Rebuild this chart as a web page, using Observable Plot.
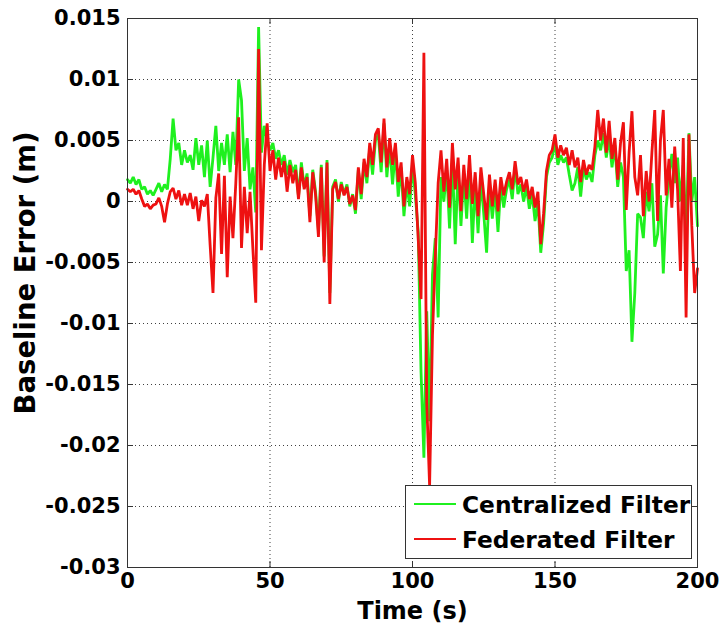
<!DOCTYPE html>
<html><head><meta charset="utf-8">
<script src="https://cdn.jsdelivr.net/npm/d3@7"></script>
<script src="https://cdn.jsdelivr.net/npm/@observablehq/plot@0.6"></script>
<style>
body{margin:0;background:#fff;}
#wrap{position:relative;width:725px;height:634px;font-family:"DejaVu Sans",sans-serif;background:#fff;}
#legend{position:absolute;left:405px;top:485px;width:285px;height:72px;border:1px solid #333;background:#fff;}
.row{position:absolute;left:0;height:30px;display:flex;align-items:center;font-weight:bold;font-size:23.3px;color:#000;white-space:nowrap;}
.sw{width:42px;height:0;border-top:2px solid;margin-left:8px;margin-right:6px;}
</style></head>
<body><div id="wrap"><div id="chart"></div><div id="legend"></div></div>
<script>
// time in seconds (1 s sampling)
const time = d3.range(0, 201);
// baseline errors in millimetres
const centralizedMm = [
 1.8, 1.5, 2.0, 1.4, 1.8, 1.0, 1.2, 0.6, 0.9, 0.5,
 1.0, 1.5, 0.8, 1.4, 1.0, 3.5, 6.8, 4.2, 4.8, 3.0,
 4.2, 3.2, 3.8, 2.6, 5.2, 3.0, 4.6, 2.0, 5.0, 1.2,
 3.6, 6.2, 2.5, 4.8, 3.0, 5.5, 2.4, 5.7, 3.0, 10.0,
 8.3, 2.5, 5.2, 1.0, 2.8, -0.9, 14.3, 4.0, 6.2, 5.0,
 4.2, 4.8, 3.5, 4.2, 3.0, 3.8, 2.2, 3.4, 2.4, 3.0,
 0.4, 3.2, 1.2, 2.3, -1.2, 2.6, 0.8, -2.4, 3.0, -4.5,
 3.4, -7.5, 1.2, 1.8, 0.0, 1.6, 0.6, 1.4, -0.4, 0.6,
 -1.0, 2.6, 0.2, 3.2, 1.5, 4.4, 2.2, 5.0, 5.5, 2.4,
 6.4, 2.0, 4.6, 1.4, 4.2, 0.4, 2.8, -1.2, 1.5, -0.4,
 3.0, 0.5, -2.5, -14.0, -21.0, -9.0, -18.0, -6.0, -3.0, -9.5,
 2.0, 0.0, 2.6, -2.2, 3.6, -3.5, 2.8, -2.0, 2.2, -1.4,
 3.0, -3.4, 1.6, -2.6, 1.8, -1.0, -4.2, 1.4, -1.4, 1.0,
 -2.5, 1.4, -0.5, 1.0, 1.8, 0.2, 2.8, 0.6, 1.4, 0.0,
 1.2, -0.6, 0.6, -1.6, 0.0, -4.2, -1.8, 2.0, 3.2, 3.6,
 4.8, 3.0, 3.8, 3.2, 3.6, 2.2, 0.9, 1.5, 2.8, 0.4,
 2.8, 1.8, 2.4, 1.6, 3.8, 5.0, 4.2, 5.6, 3.6, 5.2,
 2.8, 4.6, 1.2, 3.2, 2.0, -5.7, -4.0, -11.5, -7.5, -1.0,
 -1.3, -3.0, 0.8, -0.8, 1.5, -3.7, -2.7, 0.5, -5.9, -0.5,
 2.0, 3.9, 1.5, 3.6, 0.0, 3.0, -3.0, 5.6, 0.0, 2.0,
 -2.0
];
const federatedMm = [
 1.0, 0.8, 1.0, 0.6, 0.9, 0.2, -0.4, -0.2, -0.6, -0.3,
 -0.2, 0.3, -0.4, -1.7, -0.2, 0.8, 1.1, 0.2, 0.9, -0.3,
 0.6, -0.3, 0.7, -0.6, 0.4, -1.6, 0.1, -0.4, 0.6, -3.6,
 -7.5, 0.3, 2.3, -4.3, 2.1, -6.2, 0.4, -3.0, 1.5, 6.9,
 -3.8, 1.2, -2.6, 0.8, -3.9, -8.3, 12.5, -4.0, 3.0, 6.4,
 2.5, 4.2, 1.8, 3.6, 2.0, 3.3, 0.8, 3.0, 1.5, 2.6,
 0.2, 2.8, 1.0, 2.0, -1.7, 2.4, 0.5, -2.9, 2.8, -5.0,
 3.2, -8.4, 1.0, 1.6, 0.2, 1.4, 0.5, 1.2, -0.2, 0.5,
 -0.7, 2.8, 0.6, 3.5, 2.0, 4.8, 3.0, 5.5, 6.0, 3.2,
 6.8, 2.8, 5.2, 3.0, 4.8, 1.6, 3.2, -0.4, 2.0, 0.6,
 3.8, 1.5, -3.0, -8.0, 12.2, -16.5, -23.3, -11.0, -4.5, 1.5,
 4.2, 0.8, 3.5, -0.5, 4.8, 1.0, 3.6, -0.8, 3.0, 0.2,
 3.8, -0.2, 2.4, -1.2, 2.8, 0.6, -1.5, 2.2, -0.4, 1.8,
 -0.8, 2.0, 0.5, 1.6, 2.4, 1.0, 3.3, 1.4, 2.0, 0.8,
 1.8, 0.2, 1.2, -0.5, 0.8, -3.5, -1.0, 2.5, 3.8, 4.2,
 5.5, 3.6, 4.6, 3.8, 4.4, 3.0, 4.2, 2.8, 3.6, 1.6,
 3.4, 2.2, 3.0, 2.6, 4.5, 7.5, 5.0, 6.8, 4.0, 6.6,
 3.5, 5.2, 1.8, 4.8, 6.5, -0.7, 4.0, 7.4, 2.0, 0.5,
 3.8, -1.2, 2.5, 0.0, 4.0, 7.5, -1.6, 5.0, 7.5, 0.5,
 3.5, -0.5, 4.5, 1.0, -5.7, 5.2, -9.5, 5.5, -2.0, -7.5,
 -5.5
];
const seriesNames = ["Centralized Filter", "Federated Filter"];
const seriesColors = ["#1ff01f", "#ee1111"];
const xTicks = [0, 50, 100, 150, 200];
const yTicks = [0.015, 0.01, 0.005, 0, -0.005, -0.01, -0.015, -0.02, -0.025, -0.03];
const xLabel = "Time (s)";
const yLabel = "Baseline Error (m)";

const W = 725, H = 634, mL = 127, mR = 28, mT = 18, mB = 67;
const xDom = [0, 200], yDom = [-0.03, 0.015];
const tickLenY = (yDom[1] - yDom[0]) / (H - mT - mB) * 6;
const tickLenX = (xDom[1] - xDom[0]) / (W - mL - mR) * 6;
const fmt = d => String(+d.toFixed(3));

const toRows = (vals, name) => vals.map((v, i) => ({t: time[i], e: v / 1000, s: name}));
const cRows = toRows(centralizedMm, seriesNames[0]);
const fRows = toRows(federatedMm, seriesNames[1]);
const grid = {stroke: "#000", strokeOpacity: 0.75, strokeDasharray: "1,3"};
const FONT = "'DejaVu Sans', sans-serif";

const chart = Plot.plot({
  width: W, height: H,
  marginLeft: mL, marginRight: mR, marginTop: mT, marginBottom: mB,
  style: {fontFamily: FONT, background: "#fff", overflow: "visible", color: "#000"},
  x: {domain: xDom},
  y: {domain: yDom},
  marks: [
    Plot.gridX(xTicks.slice(1, -1), grid),
    Plot.gridY(yTicks.slice(1, -1), grid),
    Plot.line(cRows, {x: "t", y: "e", stroke: seriesColors[0], strokeWidth: 2.8, strokeLinejoin: "miter"}),
    Plot.line(fRows, {x: "t", y: "e", stroke: seriesColors[1], strokeWidth: 2.8, strokeLinejoin: "miter"}),
    Plot.ruleX(xTicks, {x: d => d, y1: yDom[0], y2: yDom[0] + tickLenY, stroke: "#333"}),
    Plot.ruleX(xTicks, {x: d => d, y1: yDom[1], y2: yDom[1] - tickLenY, stroke: "#333"}),
    Plot.ruleY(yTicks, {y: d => d, x1: xDom[0], x2: xDom[0] + tickLenX, stroke: "#333"}),
    Plot.ruleY(yTicks, {y: d => d, x1: xDom[1], x2: xDom[1] - tickLenX, stroke: "#333"}),
    Plot.frame({stroke: "#333"}),
    Plot.axisX(xTicks, {tickSize: 0, tickPadding: 6, tickFormat: fmt, fontSize: 21, fontWeight: "bold", label: null}),
    Plot.axisY(yTicks, {tickSize: 0, tickPadding: 7, tickFormat: fmt, fontSize: 21, fontWeight: "bold", label: null}),
    Plot.text([xLabel], {text: d => d, frameAnchor: "bottom", dy: 44, textAnchor: "middle", lineAnchor: "middle", fontSize: 24, fontWeight: "bold"}),
    Plot.text([yLabel], {text: d => d, frameAnchor: "left", dx: -101, dy: -20, rotate: -90, textAnchor: "middle", lineAnchor: "middle", fontSize: 27.5, fontWeight: "bold"})
  ]
});
document.getElementById("chart").appendChild(chart);

const legend = document.getElementById("legend");
seriesNames.forEach((name, i) => {
  const row = document.createElement("div");
  row.className = "row";
  row.style.top = (3 + i * 35) + "px";
  const sw = document.createElement("span");
  sw.className = "sw";
  sw.style.borderTopColor = seriesColors[i];
  const tx = document.createElement("span");
  tx.textContent = name;
  row.appendChild(sw); row.appendChild(tx);
  legend.appendChild(row);
});
</script>
</body></html>
